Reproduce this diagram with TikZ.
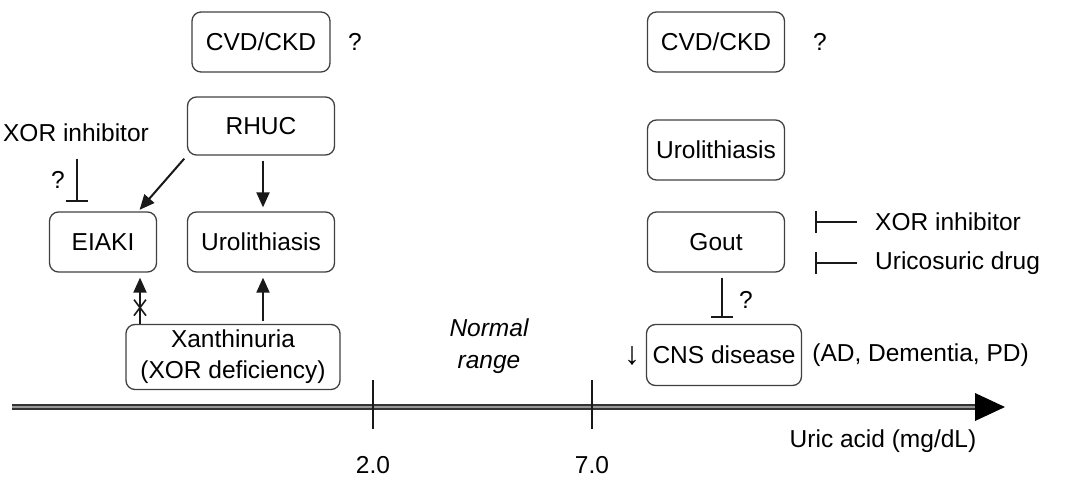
\documentclass[tikz,border=0pt]{standalone}
\usepackage{fontspec}
\setmainfont{Liberation Sans}
\usetikzlibrary{arrows.meta, calc}

\begin{document}
\begin{tikzpicture}[x=1pt,y=-1pt,font=\fontsize{24.5}{31}\selectfont,
  box/.style={draw=black!75,line width=1.3pt,rounded corners=9pt,align=center,inner sep=2pt},
  arr/.style={draw=black!90,line width=2pt,-{Triangle[length=15pt,width=13pt]}},
  blk/.style={draw=black!90,line width=2pt,-{Bar[width=22pt,line width=2pt]}},
  tick/.style={draw=black!90,line width=2pt}]
\useasboundingbox (0,0) rectangle (1080,490);

\node[box,minimum width=138pt,minimum height=60pt] (cvdL) at (261,42) {CVD/CKD};
\node (qL) at (355,42) {?};
\node[box,minimum width=147pt,minimum height=58pt] (rhuc) at (261,126) {RHUC};
\node[box,minimum width=107pt,minimum height=60pt] (eiaki) at (103,242) {EIAKI};
\node[box,minimum width=147pt,minimum height=60pt] (uroL) at (261,242) {Urolithiasis};
\node[box,minimum width=214pt,minimum height=65pt] (xanth) at (233,357) {Xanthinuria\\(XOR deficiency)};
\node (xorL) at (76,133) {XOR inhibitor};
\node (qX) at (58,180) {?};

\draw[arr,shorten <=4pt,shorten >=2pt] (rhuc.south west) -- (eiaki.41);
\draw[arr,shorten <=5pt,shorten >=4pt] (rhuc.south) ++(2,0) coordinate (r0) -- (r0 |- uroL.north);
\draw[blk,shorten <=13pt,shorten >=9pt] (xorL.south) ++(1,0) coordinate (x0) -- (x0 |- eiaki.north);
\draw[arr,shorten <=3pt,shorten >=5pt] (uroL.south |- xanth.north) ++(2,0) coordinate (u0) -- (u0 |- uroL.south);
\path (eiaki.south) ++(37,0) coordinate (ek);
\draw[arr,shorten >=5pt] (ek |- xanth.north) -- (ek);
\draw[draw=black!90,line width=1.6pt] ($(ek)+(-6,27)$) -- ++(12,16) ($(ek)+(6,27)$) -- ++(-12,16);

\node[font=\fontsize{24.5}{32}\selectfont\itshape,align=center] (norm) at (489,346) {Normal\\range};

\node[box,minimum width=137pt,minimum height=60pt] (cvdR) at (716,42) {CVD/CKD};
\node (qR) at (820,42) {?};
\node[box,minimum width=137pt,minimum height=60pt] (uroR) at (716,150) {Urolithiasis};
\node[box,minimum width=137pt,minimum height=60pt] (gout) at (716,242) {Gout};
\node[box,minimum width=155pt,minimum height=61pt] (cns) at (724,355) {CNS disease};
\node[anchor=west,inner sep=0pt] (cnsx) at ([xshift=10pt]cns.east) {(AD, Dementia, PD)};
\node[font=\fontsize{32}{32}\selectfont] (dn) at (632,356) {↓};
\node[anchor=west,inner sep=0pt] (xorR) at (875,222) {XOR inhibitor};
\node[anchor=west,inner sep=0pt] (uric) at (875,263) {Uricosuric drug};
\node (qG) at (746,300) {?};

\draw[blk,shorten <=18pt,shorten >=30pt] (xorR.west) -- (gout.east |- xorR.west);
\draw[blk,shorten <=18pt,shorten >=30pt] (uric.west) -- (gout.east |- uric.west);
\path (cns.north) ++(-2,0) coordinate (g0);
\draw[blk,shorten <=5pt,shorten >=6pt] (g0 |- gout.south) -- (g0);

\coordinate (ax0) at (12,407);
\coordinate (ax1) at (977,407);
\coordinate (axT) at (1005,407);
\draw[line width=2pt,draw=black!80,double=black!40,double distance=1.8pt] (ax0) -- (ax1);
\fill[black] (axT) -- ($(axT)+(-30,-14)$) -- ($(axT)+(-30,14)$) -- cycle;

\coordinate (t2) at (373,407);
\coordinate (t7) at (592,407);
\draw[tick] ([yshift=-22pt]t2) -- ([yshift=27pt]t2);
\draw[tick] ([yshift=-22pt]t7) -- ([yshift=27pt]t7);
\node (l2) at (373,465) {2.0};
\node (l7) at (592,465) {7.0};
\node (ua) at (883,441) {Uric acid (mg/dL)};

\end{tikzpicture}
\end{document}
